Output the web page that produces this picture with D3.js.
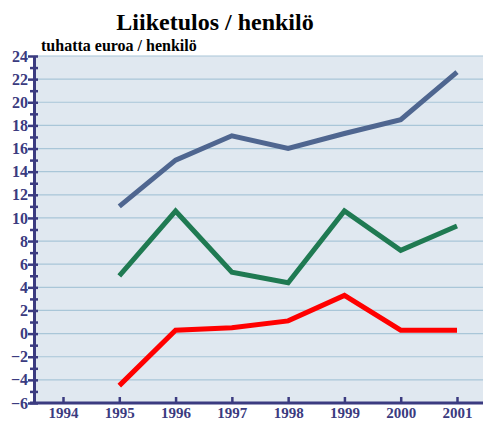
<!DOCTYPE html>
<html>
<head>
<meta charset="utf-8">
<script src="https://cdn.jsdelivr.net/npm/d3@7"></script>
<style>
  body { margin: 0; background: #fff; }
</style>
</head>
<body>
<svg id="chart"></svg>
<script>
var years = ["1994", "1995", "1996", "1997", "1998", "1999", "2000", "2001"];
var blueSeries = [null, 11.0, 15.0, 17.1, 16.0, 17.3, 18.5, 22.6];
var greenSeries = [null, 5.0, 10.6, 5.3, 4.4, 10.6, 7.2, 9.3];
var redSeries = [null, -4.5, 0.3, 0.5, 1.1, 3.3, 0.3, 0.3];
var yTicks = [-6, -4, -2, 0, 2, 4, 6, 8, 10, 12, 14, 16, 18, 20, 22, 24];

var serif = "'Liberation Serif', 'Times New Roman', serif";

var dimensions = {
  width: 483,
  height: 421,
  margin: { top: 56, bottom: 18, left: 34, right: 0 },
};

var svg = d3
  .select("#chart")
  .attr("width", dimensions.width)
  .attr("height", dimensions.height);

var plotBottom = dimensions.height - dimensions.margin.bottom;
var plotRight = dimensions.width - dimensions.margin.right;

var xScale = d3.scalePoint().domain(years).range([63, 457]);
var yScale = d3.scaleLinear().domain([-6, 24]).range([plotBottom, dimensions.margin.top]);

var axisColor = "#3b3b80";

// plot background
svg
  .append("rect")
  .attr("x", dimensions.margin.left)
  .attr("y", dimensions.margin.top)
  .attr("width", plotRight - dimensions.margin.left)
  .attr("height", plotBottom - dimensions.margin.top)
  .attr("fill", "#e0e8f0");

// grid
svg
  .selectAll("line.grid")
  .data(yTicks.slice(1))
  .enter()
  .append("line")
  .attr("class", "grid")
  .attr("x1", dimensions.margin.left)
  .attr("x2", plotRight)
  .attr("y1", (d) => yScale(d))
  .attr("y2", (d) => yScale(d))
  .attr("stroke", "#a9c6d8")
  .attr("stroke-width", 1.2);

// lines
var line = d3
  .line()
  .defined((d) => d != null)
  .x((d, i) => xScale(years[i]))
  .y((d) => yScale(d));

var seriesList = [
  { values: blueSeries, color: "#4f6690" },
  { values: greenSeries, color: "#1f7a52" },
  { values: redSeries, color: "#ff0000" },
];

svg
  .selectAll("path.series")
  .data(seriesList)
  .enter()
  .append("path")
  .attr("class", "series")
  .attr("d", (d) => line(d.values))
  .attr("fill", "none")
  .attr("stroke", (d) => d.color)
  .attr("stroke-width", 5)
  .attr("stroke-linejoin", "miter");

// y axis
var yAxisgen = d3
  .axisLeft(yScale)
  .tickValues(d3.range(-6, 25, 1))
  .tickSize(0)
  .tickPadding(6)
  .tickFormat((d) => (d % 2 === 0 ? (d < 0 ? "\u2212" + -d : d) : ""));

var yAxis = svg
  .append("g")
  .attr("transform", `translate(${dimensions.margin.left},0)`)
  .call(yAxisgen)
  .attr("font-family", serif)
  .attr("font-size", 16)
  .attr("font-weight", "bold");

yAxis.select(".domain").attr("stroke", axisColor).attr("stroke-width", 3);
yAxis
  .selectAll(".tick line")
  .attr("x1", (d) => (d % 2 === 0 ? -6 : -4))
  .attr("x2", 4)
  .attr("stroke", axisColor)
  .attr("stroke-width", 2.5);
yAxis
  .selectAll(".tick text")
  .attr("fill", axisColor)
  .attr("x", -6);

// x axis
var xAxisgen = d3.axisBottom(xScale).tickSize(0).tickPadding(4);

var xAxis = svg
  .append("g")
  .attr("transform", `translate(0,${plotBottom})`)
  .call(xAxisgen)
  .attr("font-family", serif)
  .attr("font-size", 15)
  .attr("font-weight", "bold");

xAxis.select(".domain").remove();
xAxis
  .append("line")
  .attr("x1", dimensions.margin.left - 4)
  .attr("x2", plotRight)
  .attr("stroke", axisColor)
  .attr("stroke-width", 3);
xAxis
  .selectAll(".tick line")
  .attr("y1", -6)
  .attr("y2", 1)
  .attr("stroke", axisColor)
  .attr("stroke-width", 2.5);
xAxis.selectAll(".tick text").attr("fill", axisColor);

// titles
svg
  .append("text")
  .attr("x", 215)
  .attr("y", 30)
  .attr("text-anchor", "middle")
  .attr("font-family", serif)
  .attr("font-weight", "bold")
  .attr("font-size", 24)
  .attr("fill", "#000")
  .text("Liiketulos / henkilö");

svg
  .append("text")
  .attr("x", 41)
  .attr("y", 51)
  .attr("font-family", serif)
  .attr("font-weight", "bold")
  .attr("font-size", 16)
  .attr("fill", "#000")
  .text("tuhatta euroa / henkilö");
</script>
</body>
</html>
